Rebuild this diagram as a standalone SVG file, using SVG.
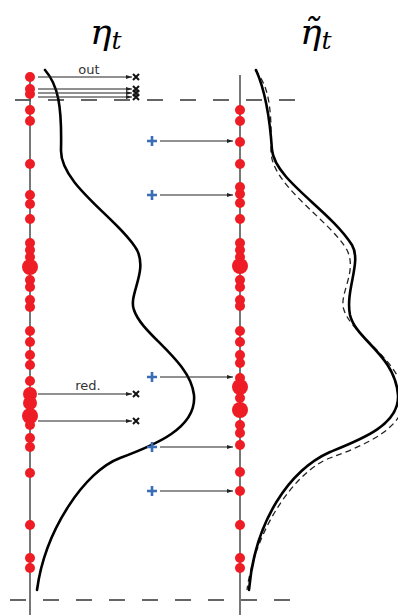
<svg xmlns="http://www.w3.org/2000/svg" width="398" height="615" viewBox="0 0 398 615">
<style>
.axis{stroke:#555;stroke-width:1.6;fill:none}
.dash{stroke:#333;stroke-width:1.4;stroke-dasharray:16 17;fill:none}
.dot{fill:#ee1c25}
.arr{stroke:#222;stroke-width:1.2;fill:none;marker-end:url(#ah)}
.xm{stroke:#111;stroke-width:2;fill:none}
.pl{stroke:#3a6db3;stroke-width:2.6;fill:none}
.curve{stroke:#000;stroke-width:2.6;fill:none;stroke-linecap:round}
.dcurve{stroke:#222;stroke-width:1.3;fill:none;stroke-dasharray:6 4}
.lbl{font-family:"DejaVu Sans",sans-serif;font-size:13px;fill:#333}
.title{font-family:"DejaVu Serif",serif;font-style:italic;font-size:36px;fill:#000}
.sub{font-family:"DejaVu Serif",serif;font-style:italic;font-size:25px;fill:#000}
</style>
<defs>
<marker id="ah" viewBox="0 0 10 10" refX="10" refY="5" markerWidth="6" markerHeight="6" orient="auto" markerUnits="userSpaceOnUse">
<path d="M0,1.5 L10,5 L0,8.5 z" fill="#222"/>
</marker>
<g id="xmark"><path class="xm" d="M-3,-3 L3,3 M-3,3 L3,-3"/></g>
<g id="plus"><path class="pl" d="M-5,0 H5 M0,-5 V5"/></g>
</defs>

<g id="titles">
<text class="title" x="90" y="44">η<tspan class="sub" dy="5">t</tspan></text>
<text class="title" x="300" y="44">η̃<tspan class="sub" dy="5">t</tspan></text>
</g>

<g id="guides">
<line class="dash" x1="15" y1="100" x2="296" y2="100"/>
<line class="dash" x1="10" y1="600" x2="292" y2="600"/>
</g>

<g id="axis-left"><line class="axis" x1="30" y1="75" x2="30" y2="615"/></g>
<g id="axis-right"><line class="axis" x1="240" y1="75" x2="240" y2="615"/></g>

<g id="density-left"><path class="curve" d="M45,70 C58,85 62,105 61,150 C60,185 120,220 137,250 C148,272 128,295 134,310 C142,335 190,360 194,395 C197,428 155,445 120,458 C85,471 45,530 37,590"/></g>
<g id="density-right-old"><path class="dcurve" transform="translate(210,0)" d="M45,70 C58,85 62,105 61,150 C60,185 120,220 137,250 C148,272 128,295 134,310 C142,335 190,360 194,395 C197,428 155,445 120,458 C85,471 45,530 37,590"/></g>
<g id="density-right"><path class="curve" d="M256,70 C265,90 270,120 272,150 C275,180 330,210 352,245 C362,262 345,290 350,315 C356,340 395,355 398,395 C400,425 360,440 330,452 C290,470 255,520 249,590"/></g>

<g id="particles-left">
<circle class="dot" cx="30" cy="77" r="5"/>
<circle class="dot" cx="30" cy="89" r="5"/>
<circle class="dot" cx="30" cy="94" r="5"/>
<circle class="dot" cx="30" cy="110" r="5"/>
<circle class="dot" cx="30" cy="121" r="5"/>
<circle class="dot" cx="30" cy="164" r="5"/>
<circle class="dot" cx="30" cy="195" r="5"/>
<circle class="dot" cx="30" cy="204" r="5"/>
<circle class="dot" cx="30" cy="219" r="5"/>
<circle class="dot" cx="30" cy="243" r="5"/>
<circle class="dot" cx="30" cy="250" r="5"/>
<circle class="dot" cx="30" cy="257" r="5"/>
<circle class="dot" cx="30" cy="267" r="8"/>
<circle class="dot" cx="30" cy="280" r="5"/>
<circle class="dot" cx="30" cy="287" r="5"/>
<circle class="dot" cx="30" cy="300" r="5"/>
<circle class="dot" cx="30" cy="307" r="5"/>
<circle class="dot" cx="30" cy="331" r="5"/>
<circle class="dot" cx="30" cy="342" r="5"/>
<circle class="dot" cx="30" cy="355" r="5"/>
<circle class="dot" cx="30" cy="365" r="5"/>
<circle class="dot" cx="30" cy="381" r="5"/>
<circle class="dot" cx="30" cy="394" r="7"/>
<circle class="dot" cx="30" cy="403" r="7"/>
<circle class="dot" cx="30" cy="416" r="8"/>
<circle class="dot" cx="30" cy="425" r="5"/>
<circle class="dot" cx="30" cy="438" r="5"/>
<circle class="dot" cx="30" cy="447" r="5"/>
<circle class="dot" cx="30" cy="473" r="5"/>
<circle class="dot" cx="30" cy="525" r="5"/>
<circle class="dot" cx="30" cy="558" r="5"/>
<circle class="dot" cx="30" cy="568" r="5"/>
</g>

<g id="particles-right">
<circle class="dot" cx="240" cy="110" r="5"/>
<circle class="dot" cx="240" cy="121" r="5"/>
<circle class="dot" cx="240" cy="142" r="5"/>
<circle class="dot" cx="240" cy="164" r="5"/>
<circle class="dot" cx="240" cy="187" r="5"/>
<circle class="dot" cx="240" cy="194" r="5"/>
<circle class="dot" cx="240" cy="203" r="5"/>
<circle class="dot" cx="240" cy="219" r="5"/>
<circle class="dot" cx="240" cy="243" r="5"/>
<circle class="dot" cx="240" cy="250" r="5"/>
<circle class="dot" cx="240" cy="257" r="5"/>
<circle class="dot" cx="240" cy="266" r="8"/>
<circle class="dot" cx="240" cy="280" r="5"/>
<circle class="dot" cx="240" cy="287" r="5"/>
<circle class="dot" cx="240" cy="300" r="5"/>
<circle class="dot" cx="240" cy="306" r="5"/>
<circle class="dot" cx="240" cy="331" r="5"/>
<circle class="dot" cx="240" cy="342" r="5"/>
<circle class="dot" cx="240" cy="355" r="5"/>
<circle class="dot" cx="240" cy="363" r="5"/>
<circle class="dot" cx="240" cy="378" r="5"/>
<circle class="dot" cx="240" cy="387" r="8"/>
<circle class="dot" cx="240" cy="398" r="5"/>
<circle class="dot" cx="240" cy="410" r="8"/>
<circle class="dot" cx="240" cy="425" r="5"/>
<circle class="dot" cx="240" cy="433" r="5"/>
<circle class="dot" cx="240" cy="445" r="5"/>
<circle class="dot" cx="240" cy="472" r="5"/>
<circle class="dot" cx="240" cy="491" r="5"/>
<circle class="dot" cx="240" cy="525" r="5"/>
<circle class="dot" cx="240" cy="558" r="5"/>
<circle class="dot" cx="240" cy="568" r="5"/>
</g>

<g id="connectors">
<line class="arr" x1="38" y1="77" x2="132" y2="77"/>
<line class="arr" x1="38" y1="89" x2="132" y2="89"/>
<line class="arr" x1="38" y1="93" x2="132" y2="93"/>
<line class="arr" x1="38" y1="97" x2="132" y2="97"/>
<line class="arr" x1="38" y1="394" x2="132" y2="394"/>
<line class="arr" x1="38" y1="421" x2="132" y2="421"/>
<line class="arr" x1="160" y1="141" x2="233" y2="141"/>
<line class="arr" x1="160" y1="195" x2="233" y2="195"/>
<line class="arr" x1="160" y1="377" x2="233" y2="377"/>
<line class="arr" x1="160" y1="447" x2="233" y2="447"/>
<line class="arr" x1="160" y1="491" x2="233" y2="491"/>
</g>

<g id="removed">
<use href="#xmark" x="136" y="77"/>
<use href="#xmark" x="136" y="89"/>
<use href="#xmark" x="136" y="93"/>
<use href="#xmark" x="136" y="97"/>
<use href="#xmark" x="136" y="394"/>
<use href="#xmark" x="136" y="421"/>
</g>

<g id="added">
<use href="#plus" x="152" y="141"/>
<use href="#plus" x="152" y="195"/>
<use href="#plus" x="152" y="377"/>
<use href="#plus" x="152" y="447"/>
<use href="#plus" x="152" y="491"/>
</g>

<g id="labels">
<text class="lbl" x="89" y="74" text-anchor="middle">out</text>
<text class="lbl" x="88" y="390" text-anchor="middle">red.</text>
</g>
</svg>
